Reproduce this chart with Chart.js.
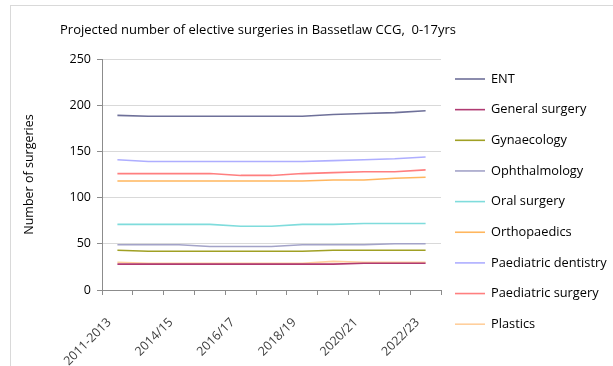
<!DOCTYPE html>
<html>
<head>
<meta charset="utf-8">
<script src="https://cdn.jsdelivr.net/npm/chart.js@4/dist/chart.umd.min.js"></script>
<style>
  html, body { margin: 0; padding: 0; background: #ffffff; }
  #frame { position: absolute; left: 10px; top: 5px; width: 700px; height: 400px;
           border-left: 1px solid #d9d9d9; border-top: 1px solid #d9d9d9; }
  #wrap { position: absolute; left: 0; top: 0; width: 613px; height: 366px; }
</style>
</head>
<body>
<div id="frame"></div>
<div id="wrap"><canvas id="chart" width="613" height="366"></canvas></div>
<script>
// Financial years of the projection (every other one is labelled on the axis)
const categories = ['2011-2013', '2013/14', '2014/15', '2015/16', '2016/17', '2017/18',
                    '2018/19', '2019/20', '2020/21', '2021/22', '2022/23'];

// Projected number of elective surgeries, ages 0-17, per specialty
const ent            = [189, 188, 188, 188, 188, 188, 188, 190, 191, 192, 194];
const generalSurgery = [28, 28, 28, 28, 28, 28, 28, 28, 29, 29, 29];
const gynaecology    = [43, 42, 42, 42, 42, 42, 42, 43, 43, 43, 43];
const ophthalmology  = [49, 49, 49, 47, 47, 47, 49, 49, 49, 50, 50];
const oralSurgery    = [71, 71, 71, 71, 69, 69, 71, 71, 72, 72, 72];
const orthopaedics   = [118, 118, 118, 118, 118, 118, 118, 119, 119, 121, 122];
const paedDentistry  = [141, 139, 139, 139, 139, 139, 139, 140, 141, 142, 144];
const paedSurgery    = [126, 126, 126, 126, 124, 124, 126, 127, 128, 128, 130];
const plastics       = [30, 29, 29, 29, 29, 29, 29, 31, 30, 30, 30];

const yTicks = [0, 50, 100, 150, 200, 250];

const chartTitle = 'Projected number of elective surgeries in Bassetlaw CCG,  0-17yrs';
const yTitle = 'Number of surgeries';

const FONT = '"Open Sans", "Liberation Sans", sans-serif';

const series = [
  { label: 'ENT',                  data: ent,            color: '#6e7099' },
  { label: 'General surgery',      data: generalSurgery, color: '#b03a72' },
  { label: 'Gynaecology',          data: gynaecology,    color: '#a0a024' },
  { label: 'Ophthalmology',        data: ophthalmology,  color: '#a3a3c8' },
  { label: 'Oral surgery',         data: oralSurgery,    color: '#7fdcdc' },
  { label: 'Orthopaedics',         data: orthopaedics,   color: '#ffb65e' },
  { label: 'Paediatric dentistry', data: paedDentistry,  color: '#aeaeff' },
  { label: 'Paediatric surgery',   data: paedSurgery,    color: '#ff7f7f' },
  { label: 'Plastics',             data: plastics,       color: '#ffcf9c' }
];

// Title and the right-hand legend are painted after the chart itself
const decorations = {
  id: 'decorations',
  afterDraw(chart) {
    const ctx = chart.ctx;
    ctx.save();
    ctx.fillStyle = '#000000';
    ctx.font = '13px ' + FONT;
    ctx.textBaseline = 'middle';
    ctx.textAlign = 'left';
    ctx.fillText(chartTitle, 60, 30);

    ctx.font = '12.8px ' + FONT;
    chart.data.datasets.forEach((ds, i) => {
      const y = 79 + i * 30.65;
      ctx.strokeStyle = ds.borderColor;
      ctx.lineWidth = 1.6;
      ctx.beginPath();
      ctx.moveTo(455, y);
      ctx.lineTo(485, y);
      ctx.stroke();
      ctx.fillStyle = '#000000';
      ctx.fillText(ds.label, 491, y);
    });
    ctx.restore();
  }
};

new Chart(document.getElementById('chart'), {
  type: 'line',
  data: {
    labels: categories,
    datasets: series.map(s => ({
      label: s.label,
      data: s.data,
      borderColor: s.color,
      backgroundColor: s.color,
      borderWidth: 1.6,
      pointRadius: 0,
      tension: 0,
      fill: false
    }))
  },
  options: {
    responsive: false,
    animation: false,
    devicePixelRatio: 1,
    layout: { padding: { left: 0, top: 59, right: 172, bottom: 0 } },
    plugins: {
      legend: { display: false },
      title: { display: false },
      tooltip: { enabled: false }
    },
    scales: {
      x: {
        type: 'category',
        offset: true,
        grid: {
          offset: true,
          drawOnChartArea: false,
          drawTicks: true,
          tickLength: 5,
          color: '#8c8c8c'
        },
        border: { color: '#8c8c8c', width: 1 },
        ticks: {
          autoSkip: false,
          minRotation: 45,
          maxRotation: 45,
          padding: 20,
          labelOffset: -8,
          color: '#404040',
          font: { family: FONT, size: 12.5 },
          callback: (value, index) => (index % 2 === 0 ? categories[index] : '')
        },
        afterFit(scale) { scale.height = 76; }
      },
      y: {
        min: 0,
        max: 250,
        afterBuildTicks(scale) { scale.ticks = yTicks.map(v => ({ value: v })); },
        grid: {
          color: '#d9d9d9',
          tickColor: '#8c8c8c',
          tickLength: 5,
          drawTicks: true
        },
        border: { color: '#8c8c8c', width: 1 },
        ticks: {
          padding: 6,
          color: '#000000',
          font: { family: FONT, size: 12.5 }
        },
        title: {
          display: true,
          text: yTitle,
          color: '#000000',
          font: { family: FONT, size: 12.5 },
          padding: { top: 22, bottom: 0 }
        },
        afterFit(scale) { scale.width = 102; }
      }
    }
  },
  plugins: [decorations]
});
</script>
</body>
</html>
